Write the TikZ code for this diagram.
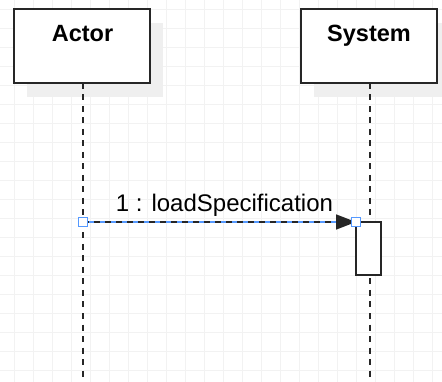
\documentclass[tikz,border=0pt]{standalone}
\usepackage{fontspec}
\setmainfont{Liberation Sans}
\usetikzlibrary{arrows.meta}
\definecolor{gridc}{HTML}{F2F2F2}
\definecolor{shadowc}{HTML}{EFEFEF}
\definecolor{handlec}{HTML}{5599FF}
\begin{document}
\begin{tikzpicture}[x=1pt,y=-1pt,
  lifebox/.style={draw=black!85,line width=2pt,fill=white,minimum width=136pt,minimum height=73.5pt,inner sep=0pt,outer sep=0pt},
  shadowbox/.style={fill=shadowc,minimum width=136pt,minimum height=73.5pt,inner sep=0pt,outer sep=0pt},
  lifeline/.style={black!85,line width=2pt,dash pattern=on 6pt off 5.5pt},
  actbox/.style={draw=black!85,line width=2pt,fill=white,minimum width=25pt,minimum height=53pt,inner sep=0pt,outer sep=0pt},
  handle/.style={draw=handlec,line width=1.3pt,fill=white,minimum size=9pt,inner sep=0pt},
  title/.style={font=\bfseries\fontsize{23.5}{26}\selectfont,anchor=base},
  msglabel/.style={font=\fontsize{24}{27}\selectfont,anchor=base}]
\useasboundingbox (0,0) rectangle (442,382);
\fill[white] (0,0) rectangle (442,382);
% grid
\foreach \k in {0,...,22} \draw[gridc,line width=1pt] (14.3+19*\k,0) -- (14.3+19*\k,382);
\foreach \k in {0,...,19} \draw[gridc,line width=1pt] (0,9.3+19*\k) -- (442,9.3+19*\k);
% shadows
\node[shadowbox] (ashadow) at (95,60) {};
\node[shadowbox] (sshadow) at (382,60) {};
% lifeline boxes
\node[lifebox] (actor) at (82,46.25) {};
\node[lifebox] (system) at (369,46.25) {};
\node[title] (actorlbl) at (82.5,41.7) {Actor};
\node[title] (systemlbl) at (369,41.7) {System};
% lifelines
\coordinate (aend) at (83,382);
\coordinate (send) at (369.5,382);
\draw[lifeline] (actor.south -| aend) -- (aend);
\draw[lifeline] (system.south -| send) -- (send);
% activation
\node[actbox] (act) at (368.5,248.5) {};
\coordinate (msgstart) at (83,222);
% message
\draw[handlec,line width=1.5pt] (msgstart) -- (act.north west);
\draw[black!85,line width=1.5pt,dash pattern=on 6pt off 5pt,-{Triangle[length=20pt,width=15pt]}] (msgstart) -- (act.north west);
\node[msglabel] (msg) at (224.5,211.7) {1 : loadSpecification};
% handles
\node[handle] (h1) at (msgstart) {};
\node[handle] (h2) at (act.north west) {};
\end{tikzpicture}
\end{document}
